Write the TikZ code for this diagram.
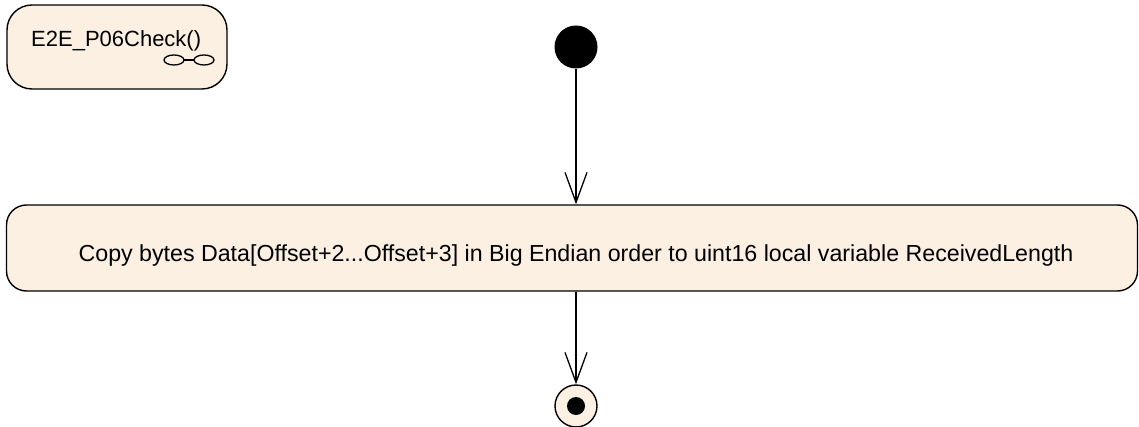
\documentclass[tikz,border=0pt]{standalone}
\usepackage{fontspec}
\setmainfont{Liberation Sans}
\usetikzlibrary{arrows.meta}
\definecolor{actfill}{RGB}{251,240,226}
\begin{document}
\begin{tikzpicture}[x=1pt,y=-1pt,
  actbox/.style={draw=black,line width=1.4pt,fill=actfill,rounded corners=20pt},
  flow/.style={line width=1.3pt,-{Straight Barb[length=30pt,width=22pt,line width=1.3pt]}},
  lbl/.style={inner sep=0pt}]
\useasboundingbox (0,0) rectangle (1139,427);
% activity frame
\draw[actbox,rounded corners=25pt] (7,5) rectangle (227,89);
\node[lbl,anchor=base west,font=\fontsize{22}{26}\selectfont] (title) at (31,47) {E2E\_P06Check()};
\draw[line width=1.3pt] (174,60) ellipse [x radius=10,y radius=5];
\draw[line width=1.3pt] (204,60) ellipse [x radius=10,y radius=5];
\draw[line width=1.3pt] (184,60) -- (194,60);
% initial node
\node[circle,fill=black,minimum size=43pt,inner sep=0pt] (init) at (576,47) {};
% action
\node[actbox,minimum width=1131pt,minimum height=86pt,inner sep=0pt] (act) at (572,248) {};
\node[lbl,anchor=base,font=\fontsize{23.2}{27}\selectfont] (acttext) at (576,262) {Copy bytes Data[Offset+2...Offset+3] in Big Endian order to uint16 local variable ReceivedLength};
% final node
\node[circle,draw=black,line width=1.4pt,fill=actfill,minimum size=42pt,inner sep=0pt] (final) at (576,406) {};
\node[circle,fill=black,minimum size=18pt,inner sep=0pt] (finaldot) at (final.center) {};
% flows
\draw[flow] (init) -- (act.north -| init);
\draw[flow] (act.south -| init) -- (final);
\end{tikzpicture}
\end{document}
